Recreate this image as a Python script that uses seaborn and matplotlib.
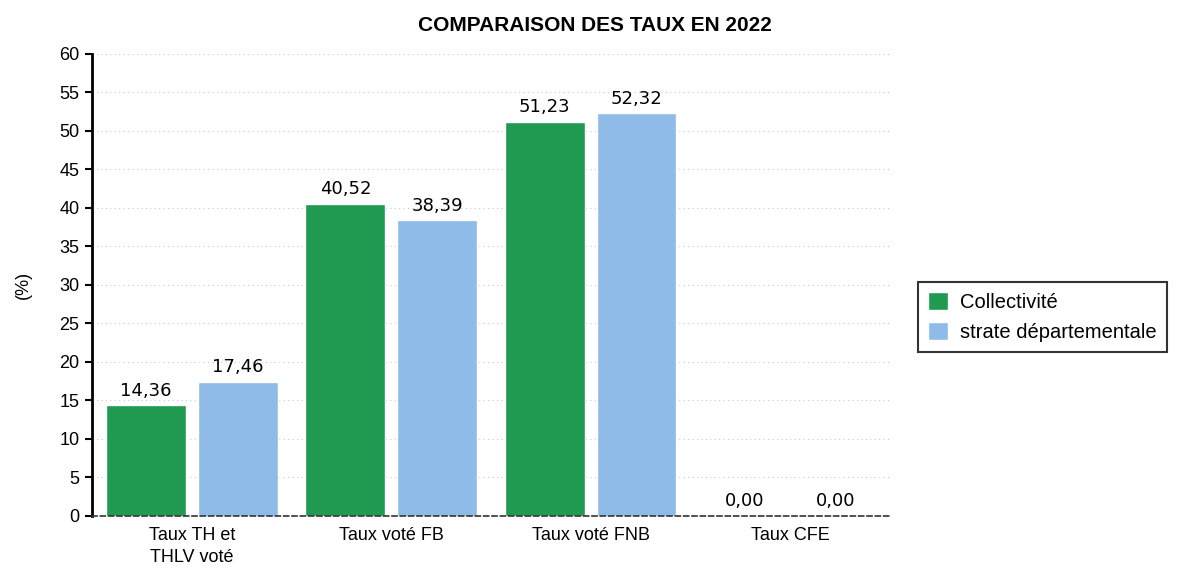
import matplotlib
matplotlib.use("Agg")
import matplotlib.pyplot as plt
import seaborn as sns
import pandas as pd

# données
categories = ["Taux TH et\nTHLV voté", "Taux voté FB", "Taux voté FNB", "Taux CFE"]
series = ["Collectivité", "strate départementale"]
collectivite = [14.36, 40.52, 51.23, 0.00]
strate = [17.46, 38.39, 52.32, 0.00]
yticks = list(range(0, 65, 5))

df = pd.DataFrame({
    "categorie": categories * 2,
    "serie": [series[0]] * 4 + [series[1]] * 4,
    "taux": collectivite + strate,
})

sns.set_style("white")
plt.rcParams["font.family"] = ["Liberation Sans", "DejaVu Sans"]
plt.rcParams["text.color"] = "black"
plt.rcParams["axes.labelcolor"] = "black"
plt.rcParams["xtick.color"] = "black"
plt.rcParams["ytick.color"] = "black"

fig = plt.figure(figsize=(11.85, 5.73), dpi=100)
ax = fig.add_axes([0.0776, 0.0995, 0.6734, 0.8063])

palette = {series[0]: "#1f9a50", series[1]: "#8fbbe8"}
sns.barplot(data=df, x="categorie", y="taux", hue="serie", order=categories,
            hue_order=series, palette=palette, width=0.92, gap=0.13,
            saturation=1, ax=ax, legend=True)

# étiquettes de valeur
for cont in ax.containers:
    ax.bar_label(cont, labels=[f"{v:.2f}".replace(".", ",") for v in cont.datavalues],
                 padding=4, fontsize=13, family="DejaVu Sans", color="black")

ax.set_ylim(0, 60)
ax.set_xlim(-0.5, 3.5)
ax.set_yticks(yticks)
ax.set_yticklabels([str(t) for t in yticks], fontsize=13)
ax.tick_params(axis="y", direction="out", length=5, width=1.5, color="black", left=True, pad=4)
ax.tick_params(axis="x", length=0, labelsize=13, pad=8)
for lbl in ax.get_xticklabels():
    lbl.set_linespacing(1.4)
ax.yaxis.grid(True, linestyle=(0, (1, 3)), color="#c8c8c8", linewidth=0.8)
ax.set_axisbelow(True)

for s in ["top", "right"]:
    ax.spines[s].set_visible(False)
ax.spines["left"].set_linewidth(2)
ax.spines["left"].set_color("black")
ax.spines["bottom"].set_linestyle((0, (3, 2)))
ax.spines["bottom"].set_linewidth(1.2)
ax.spines["bottom"].set_color("#333333")

ax.set_xlabel("")
ax.set_ylabel("(%)", fontsize=13, labelpad=20)

fig.text(0.502, 0.955, "COMPARAISON DES TAUX EN 2022", ha="center", va="center",
         fontsize=15, fontweight="bold")

leg = ax.legend(loc="center left", bbox_to_anchor=(1.035, 0.43), borderaxespad=0,
                fontsize=14.5, frameon=True, fancybox=False, edgecolor="black",
                handlelength=1.0, handleheight=1.0, borderpad=0.5, labelspacing=0.5,
                handletextpad=0.6)
leg.get_frame().set_linewidth(1.5)

fig.savefig("out.png", dpi=100)
